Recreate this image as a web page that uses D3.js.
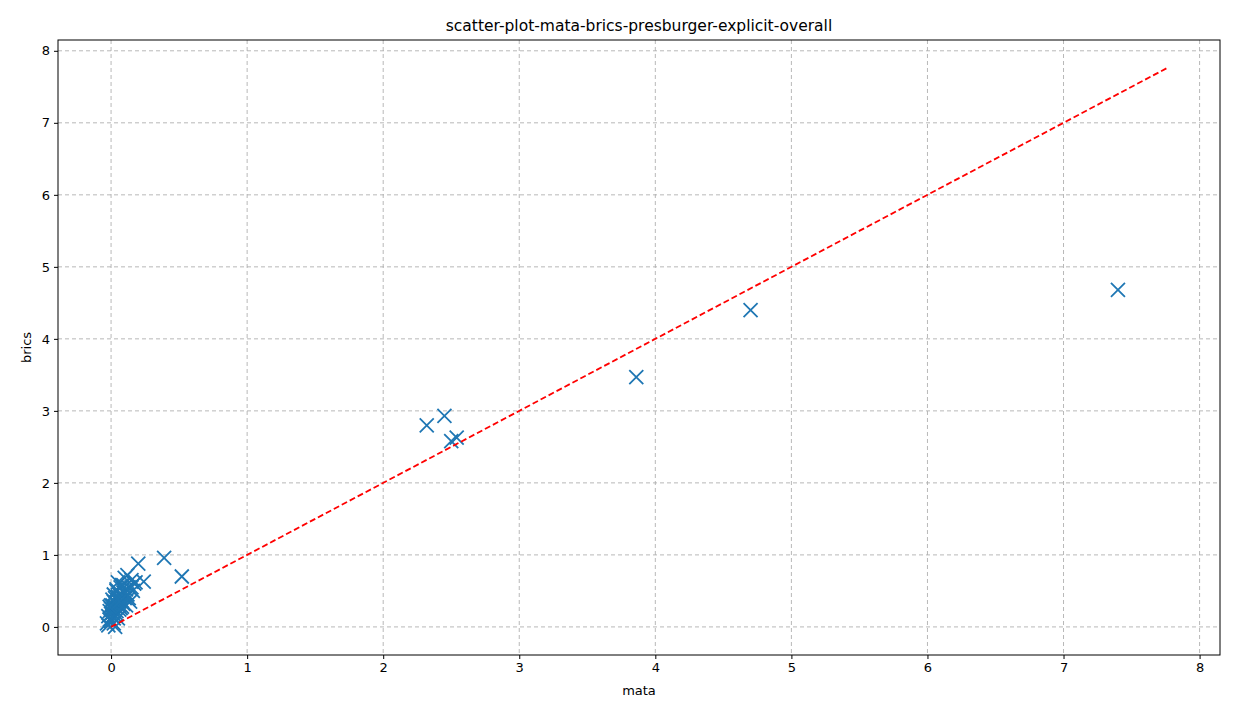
<!DOCTYPE html>
<html><head><meta charset="utf-8">
<script src="https://cdn.jsdelivr.net/npm/d3@7"></script>
<style>body{margin:0;background:#fff;font-family:"DejaVu Sans",sans-serif;}</style>
</head><body><svg id="chart" width="1240" height="719"></svg>
<script>
const title = "scatter-plot-mata-brics-presburger-explicit-overall";
const xTicks = [0, 1, 2, 3, 4, 5, 6, 7, 8];
const yTicks = [0, 1, 2, 3, 4, 5, 6, 7, 8];
const mata = [7.40, 4.70, 3.86, 2.32, 2.45, 2.50, 2.54, 0.39, 0.52, 0.20, 0.24, 0.17, 0.12, 0.15, 0.10, 0.05, 0.08,
  0.13, 0.16, 0.11, 0.09, 0.06, 0.04, 0.07, 0.03, 0.02, 0.01, 0.00, -0.01, -0.02, -0.03, 0.05, 0.08, 0.10, 0.12,
  0.14, 0.06, 0.03, 0.01, 0.00, -0.01, 0.02, 0.04, 0.07, 0.09, 0.11, 0.05, 0.03, 0.02, 0.00, -0.02, 0.01, 0.04,
  0.06, 0.08, 0.10, 0.13, 0.15, 0.18, 0.02, 0.03, 0.05, 0.07, 0.00, 0.01, -0.01, 0.02, 0.04, 0.06, 0.09];
const brics = [4.68, 4.40, 3.47, 2.80, 2.93, 2.58, 2.63, 0.96, 0.70, 0.88, 0.63, 0.60, 0.72, 0.65, 0.68, 0.62, 0.58,
  0.55, 0.50, 0.52, 0.48, 0.45, 0.50, 0.42, 0.40, 0.35, 0.30, 0.25, 0.22, 0.15, 0.05, 0.38, 0.36, 0.40, 0.45,
  0.35, 0.30, 0.28, 0.20, 0.18, 0.10, 0.12, 0.22, 0.26, 0.32, 0.30, 0.42, 0.33, 0.25, 0.08, 0.02, 0.15, 0.18,
  0.24, 0.28, 0.48, 0.40, 0.55, 0.62, 0.05, 0.00, 0.12, 0.55, 0.30, 0.38, 0.28, 0.45, 0.52, 0.35, 0.58];
const diag = [0, 7.77];

const svg = d3.select("#chart");
const m = {l: 58, r: 1220, t: 40, b: 655};
const x = d3.scaleLinear().domain([-0.39, 8.15]).range([m.l, m.r]);
const y = d3.scaleLinear().domain([-0.39, 8.15]).range([m.b, m.t]);

svg.append("g").attr("transform", `translate(0,${m.b})`)
  .call(d3.axisBottom(x).tickValues(xTicks).tickSize(4).tickPadding(4))
  .call(g => g.select(".domain").remove());
svg.append("g").attr("transform", `translate(${m.l},0)`)
  .call(d3.axisLeft(y).tickValues(yTicks).tickSize(4).tickPadding(4))
  .call(g => g.select(".domain").remove());
svg.selectAll(".tick text").attr("font-size", 13).attr("fill", "#000").attr("font-family", "DejaVu Sans");

const grid = svg.append("g").attr("stroke", "#b0b0b0").attr("stroke-dasharray", "4,3").attr("stroke-width", 0.9);
xTicks.forEach(t => grid.append("line").attr("x1", x(t)).attr("x2", x(t)).attr("y1", m.t).attr("y2", m.b));
yTicks.forEach(t => grid.append("line").attr("y1", y(t)).attr("y2", y(t)).attr("x1", m.l).attr("x2", m.r));

const s = 7;
const pts = svg.append("g").attr("stroke", "#1f77b4").attr("stroke-width", 1.8);
mata.forEach((v, i) => {
  const cx = x(v), cy = y(brics[i]);
  pts.append("path").attr("d", `M${cx-s},${cy-s}L${cx+s},${cy+s}M${cx-s},${cy+s}L${cx+s},${cy-s}`);
});

svg.append("line").attr("x1", x(diag[0])).attr("y1", y(diag[0])).attr("x2", x(diag[1])).attr("y2", y(diag[1]))
  .attr("stroke", "red").attr("stroke-width", 1.8).attr("stroke-dasharray", "6,3");

svg.append("rect").attr("x", m.l).attr("y", m.t).attr("width", m.r - m.l).attr("height", m.b - m.t)
  .attr("fill", "none").attr("stroke", "#000").attr("stroke-width", 1);

svg.append("text").attr("x", (m.l + m.r) / 2).attr("y", 31).attr("text-anchor", "middle")
  .attr("font-size", 15.5).text(title);
svg.append("text").attr("x", (m.l + m.r) / 2).attr("y", 695).attr("text-anchor", "middle")
  .attr("font-size", 13).text("mata");
svg.append("text").attr("transform", `translate(31,${(m.t + m.b) / 2}) rotate(-90)`).attr("text-anchor", "middle")
  .attr("font-size", 13).text("brics");
</script></body></html>
